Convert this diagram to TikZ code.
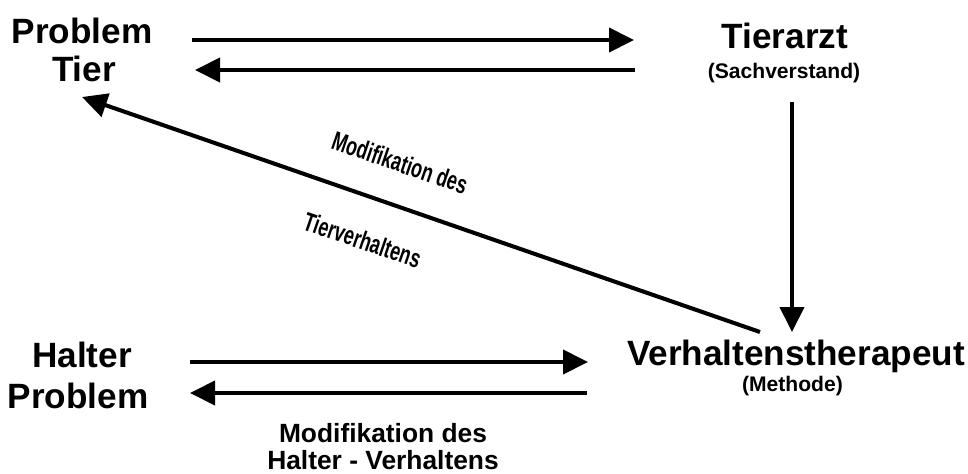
\documentclass[tikz,border=0pt]{standalone}
\usepackage{fontspec}
\setmainfont{Liberation Sans}
\newfontfamily\schmal[FakeStretch=0.68]{Liberation Sans}
\usetikzlibrary{arrows.meta}
\begin{document}
\begin{tikzpicture}
[pfeil/.style={-{Triangle[length=5mm,width=4.8mm]},line width=2.3pt},%
  every node/.style={inner sep=0pt,anchor=base},%
  gross/.style={font=\fontsize{20}{24}\selectfont\bfseries},%
  mittel/.style={font=\fontsize{15}{18}\selectfont\bfseries},%
  klein/.style={font=\fontsize{12}{14}\selectfont\bfseries},%
  schraeg/.style={font=\fontsize{15}{18}\selectfont\schmal\bfseries,rotate=-19,anchor=center}]
\useasboundingbox (0,0) rectangle (19.36,-9.46);
\node[gross] (problem) at (1.64,-0.86) {Problem};
\node[gross] (tier) at (1.68,-1.62) {Tier};
\node[gross] (tierarzt) at (15.7,-0.96) {Tierarzt};
\node[klein] (sachverstand) at (15.68,-1.56) {(Sachverstand)};
\node[gross] (halter) at (1.64,-7.34) {Halter};
\node[gross] (halterproblem) at (1.56,-8.16) {Problem};
\node[gross] (therapeut) at (15.92,-7.3) {Verhaltenstherapeut};
\node[klein] (methode) at (15.85,-7.82) {(Methode)};
\node[mittel] (modhalter) at (7.66,-8.84) {Modifikation des};
\node[mittel] (halterverh) at (7.66,-9.38) {Halter - Verhaltens};
\node[schraeg] (modtier) at (8.0,-3.25) {Modifikation des};
\node[schraeg] (tierverh) at (7.25,-4.8) {Tierverhaltens};
\coordinate (t1a) at (3.84,-0.8);
\coordinate (t1b) at (12.68,-0.8);
\coordinate (t2a) at (12.7,-1.4);
\coordinate (t2b) at (3.9,-1.4);
\coordinate (va) at (15.84,-2.04);
\coordinate (vb) at (15.84,-6.64);
\coordinate (da) at (15.2,-6.64);
\coordinate (db) at (1.64,-1.94);
\coordinate (b1a) at (3.8,-7.24);
\coordinate (b1b) at (11.76,-7.24);
\coordinate (b2a) at (11.74,-7.86);
\coordinate (b2b) at (3.8,-7.86);
\draw[pfeil] (t1a) -- (t1b);
\draw[pfeil] (t2a) -- (t2b);
\draw[pfeil] (va) -- (vb);
\draw[pfeil] (da) -- (db);
\draw[pfeil] (b1a) -- (b1b);
\draw[pfeil] (b2a) -- (b2b);
\end{tikzpicture}
\end{document}
